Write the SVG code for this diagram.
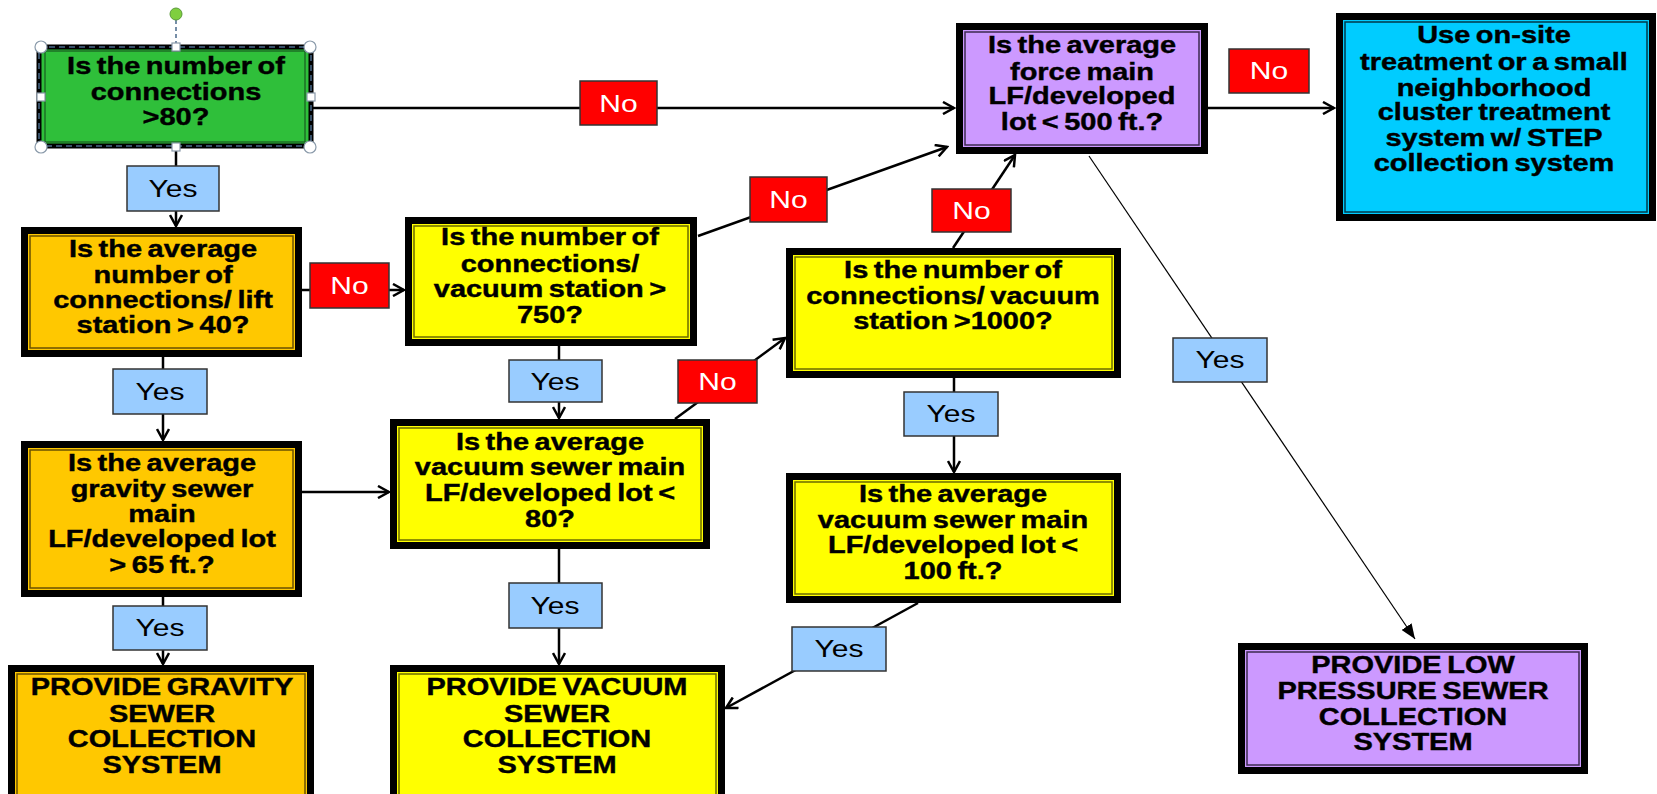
<svg xmlns="http://www.w3.org/2000/svg" width="1657" height="794" viewBox="0 0 1657 794">
<defs>
<style>
.t{font-family:"Liberation Sans",Arial,sans-serif;font-weight:bold;font-size:23px;text-anchor:middle;fill:#000;stroke:#000;stroke-width:0.4;word-spacing:-2px}
.lt{font-family:"Liberation Sans",Arial,sans-serif;font-size:24px;text-anchor:middle}
.yes{fill:#99ccff;stroke:#333;stroke-width:1.5}
.no{fill:#ff0000;stroke:#333;stroke-width:1.5}
.yt{fill:#000}
.nt{fill:#fff}
.frame{stroke:#000;stroke-width:7}
.inner{fill:none;stroke-width:1.5}
.c{stroke:#000;stroke-width:2.5;fill:none;marker-end:url(#arr)}
.thin{stroke:#000;stroke-width:1.2;fill:none;marker-end:url(#tri)}
.handle{fill:#fff;stroke:#8a9aaa;stroke-width:1.2}
</style>
<marker id="arr" markerUnits="userSpaceOnUse" markerWidth="14" markerHeight="14" refX="12" refY="7" orient="auto">
<path d="M1,1 L12,7 L1,13" fill="none" stroke="#000" stroke-width="2.5"/>
</marker>
<marker id="tri" markerUnits="userSpaceOnUse" markerWidth="16" markerHeight="12" refX="15" refY="6" orient="auto">
<path d="M0,0 L15,6 L0,12 Z" fill="#000"/>
</marker>
</defs>
<rect width="1657" height="794" fill="#fff"/>

<g id="connectors">
<line class="c" x1="176" y1="148" x2="176" y2="226"/>
<line class="c" x1="313" y1="108" x2="954" y2="108"/>
<line class="c" x1="302" y1="290" x2="404" y2="290"/>
<line class="c" x1="163" y1="357" x2="163" y2="440"/>
<line class="c" x1="302" y1="492" x2="389" y2="492"/>
<line class="c" x1="163" y1="597" x2="163" y2="664"/>
<line class="c" x1="559" y1="346" x2="559" y2="418"/>
<line class="c" x1="559" y1="549" x2="559" y2="664"/>
<line class="c" x1="698" y1="236" x2="947" y2="147"/>
<line class="c" x1="675" y1="419" x2="785" y2="338"/>
<line class="c" x1="953" y1="248" x2="1015" y2="155"/>
<line class="c" x1="954" y1="378" x2="954" y2="472"/>
<line class="c" x1="918" y1="603" x2="726" y2="708"/>
<line class="c" x1="1208" y1="108" x2="1334" y2="108"/>
<line class="thin" x1="1089" y1="156" x2="1415" y2="639"/>
</g>

<g id="labels">
<rect class="yes" x="127" y="166" width="92" height="45"/><text class="lt yt" transform="translate(173,0) scale(1.25,1)" x="0" y="197">Yes</text>
<rect class="yes" x="113" y="369" width="94" height="45"/><text class="lt yt" transform="translate(160,0) scale(1.25,1)" x="0" y="400">Yes</text>
<rect class="yes" x="113" y="606" width="94" height="44"/><text class="lt yt" transform="translate(160,0) scale(1.25,1)" x="0" y="636">Yes</text>
<rect class="yes" x="509" y="360" width="93" height="42"/><text class="lt yt" transform="translate(555,0) scale(1.25,1)" x="0" y="390">Yes</text>
<rect class="yes" x="509" y="583" width="93" height="45"/><text class="lt yt" transform="translate(555,0) scale(1.25,1)" x="0" y="614">Yes</text>
<rect class="yes" x="904" y="392" width="94" height="44"/><text class="lt yt" transform="translate(951,0) scale(1.25,1)" x="0" y="422">Yes</text>
<rect class="yes" x="792" y="627" width="94" height="44"/><text class="lt yt" transform="translate(839,0) scale(1.25,1)" x="0" y="657">Yes</text>
<rect class="yes" x="1173" y="338" width="94" height="44"/><text class="lt yt" transform="translate(1220,0) scale(1.25,1)" x="0" y="368">Yes</text>
<rect class="no" x="580" y="81" width="77" height="44"/><text class="lt nt" transform="translate(618.5,0) scale(1.25,1)" x="0" y="112">No</text>
<rect class="no" x="310" y="263" width="79" height="45"/><text class="lt nt" transform="translate(349.5,0) scale(1.25,1)" x="0" y="294">No</text>
<rect class="no" x="750" y="177" width="77" height="45"/><text class="lt nt" transform="translate(788.5,0) scale(1.25,1)" x="0" y="208">No</text>
<rect class="no" x="678" y="360" width="79" height="43"/><text class="lt nt" transform="translate(717.5,0) scale(1.25,1)" x="0" y="390">No</text>
<rect class="no" x="932" y="189" width="79" height="43"/><text class="lt nt" transform="translate(971.5,0) scale(1.25,1)" x="0" y="219">No</text>
<rect class="no" x="1229" y="49" width="80" height="44"/><text class="lt nt" transform="translate(1269,0) scale(1.25,1)" x="0" y="79">No</text>
</g>

<g id="start">
<rect x="39" y="47" width="272" height="99" fill="#2fbf3a" stroke="#000" stroke-width="5"/>
<rect x="45" y="51" width="260" height="91" fill="none" stroke="#1a5a20" stroke-width="1.2"/>
<rect x="39" y="47" width="272" height="99" fill="none" stroke="#4a6a8a" stroke-width="1.5" stroke-dasharray="6,4"/>
<line x1="176" y1="20" x2="176" y2="43" stroke="#4a6a8a" stroke-width="1.5" stroke-dasharray="4,3"/>
<circle cx="176" cy="14" r="6" fill="#7fcf3f" stroke="#5a9a3a" stroke-width="1"/>
<circle class="handle" cx="41" cy="47" r="6"/>
<circle class="handle" cx="310" cy="47" r="6"/>
<circle class="handle" cx="41" cy="147" r="6"/>
<circle class="handle" cx="310" cy="147" r="6"/>
<rect class="handle" x="172" y="43" width="8" height="8"/>
<rect class="handle" x="172" y="143" width="8" height="8"/>
<rect class="handle" x="37" y="93" width="8" height="8"/>
<rect class="handle" x="307" y="93" width="8" height="8"/>
<text class="t" transform="translate(176,0) scale(1.26,1)"><tspan x="0" y="74">Is the number of</tspan><tspan x="0" y="100">connections</tspan><tspan x="0" y="125">&gt;80?</tspan></text>
</g>

<g id="lift">
<rect class="frame" x="24.5" y="230.5" width="274" height="123" fill="#ffc800"/>
<rect class="inner" x="30" y="236" width="263" height="112" stroke="#6a5000"/>
<text class="t" transform="translate(163,0) scale(1.26,1)"><tspan x="0" y="257">Is the average</tspan><tspan x="0" y="283">number of</tspan><tspan x="0" y="308">connections/ lift</tspan><tspan x="0" y="333">station &gt; 40?</tspan></text>
</g>

<g id="gravity">
<rect class="frame" x="24.5" y="444.5" width="274" height="149" fill="#ffc800"/>
<rect class="inner" x="30" y="450" width="263" height="138" stroke="#6a5000"/>
<text class="t" transform="translate(162,0) scale(1.26,1)"><tspan x="0" y="471">Is the average</tspan><tspan x="0" y="497">gravity sewer</tspan><tspan x="0" y="522">main</tspan><tspan x="0" y="547">LF/developed lot</tspan><tspan x="0" y="573">&gt; 65 ft.?</tspan></text>
</g>

<g id="provide-gravity">
<rect class="frame" x="11.5" y="668.5" width="299" height="140" fill="#ffc800"/>
<rect class="inner" x="17" y="674" width="288" height="140" stroke="#6a5000"/>
<text class="t" transform="translate(162,0) scale(1.26,1)"><tspan x="0" y="695">PROVIDE GRAVITY</tspan><tspan x="0" y="722">SEWER</tspan><tspan x="0" y="747">COLLECTION</tspan><tspan x="0" y="773">SYSTEM</tspan></text>
</g>

<g id="vac750">
<rect class="frame" x="408.5" y="220.5" width="285" height="122" fill="#ffff00"/>
<rect class="inner" x="414" y="226" width="274" height="111" stroke="#6b6b00"/>
<text class="t" transform="translate(550,0) scale(1.26,1)"><tspan x="0" y="245">Is the number of</tspan><tspan x="0" y="272">connections/</tspan><tspan x="0" y="297">vacuum station &gt;</tspan><tspan x="0" y="323">750?</tspan></text>
</g>

<g id="vac80">
<rect class="frame" x="393.5" y="422.5" width="313" height="123" fill="#ffff00"/>
<rect class="inner" x="399" y="428" width="302" height="112" stroke="#6b6b00"/>
<text class="t" transform="translate(550,0) scale(1.26,1)"><tspan x="0" y="450">Is the average</tspan><tspan x="0" y="475">vacuum sewer main</tspan><tspan x="0" y="501">LF/developed lot &lt;</tspan><tspan x="0" y="527">80?</tspan></text>
</g>

<g id="provide-vacuum">
<rect class="frame" x="393.5" y="668.5" width="328" height="140" fill="#ffff00"/>
<rect class="inner" x="399" y="674" width="317" height="140" stroke="#6b6b00"/>
<text class="t" transform="translate(557,0) scale(1.26,1)"><tspan x="0" y="695">PROVIDE VACUUM</tspan><tspan x="0" y="722">SEWER</tspan><tspan x="0" y="747">COLLECTION</tspan><tspan x="0" y="773">SYSTEM</tspan></text>
</g>

<g id="vac1000">
<rect class="frame" x="789.5" y="251.5" width="328" height="123" fill="#ffff00"/>
<rect class="inner" x="795" y="257" width="317" height="112" stroke="#6b6b00"/>
<text class="t" transform="translate(953,0) scale(1.26,1)"><tspan x="0" y="278">Is the number of</tspan><tspan x="0" y="304">connections/ vacuum</tspan><tspan x="0" y="329">station &gt;1000?</tspan></text>
</g>

<g id="vac100">
<rect class="frame" x="789.5" y="476.5" width="328" height="123" fill="#ffff00"/>
<rect class="inner" x="795" y="482" width="317" height="112" stroke="#6b6b00"/>
<text class="t" transform="translate(953,0) scale(1.26,1)"><tspan x="0" y="502">Is the average</tspan><tspan x="0" y="528">vacuum sewer main</tspan><tspan x="0" y="553">LF/developed lot &lt;</tspan><tspan x="0" y="579">100 ft.?</tspan></text>
</g>

<g id="forcemain">
<rect class="frame" x="959.5" y="26.5" width="245" height="124" fill="#cc99ff"/>
<rect class="inner" x="965" y="32" width="234" height="113" stroke="#3c2a50"/>
<text class="t" transform="translate(1082,0) scale(1.26,1)"><tspan x="0" y="53">Is the average</tspan><tspan x="0" y="80">force main</tspan><tspan x="0" y="104">LF/developed</tspan><tspan x="0" y="130">lot &lt; 500 ft.?</tspan></text>
</g>

<g id="onsite">
<rect class="frame" x="1339.5" y="16.5" width="313" height="201" fill="#00ccff"/>
<rect class="inner" x="1345" y="22" width="302" height="190" stroke="#00394a"/>
<text class="t" transform="translate(1494,0) scale(1.26,1)"><tspan x="0" y="43">Use on-site</tspan><tspan x="0" y="70">treatment or a small</tspan><tspan x="0" y="96">neighborhood</tspan><tspan x="0" y="120">cluster treatment</tspan><tspan x="0" y="146">system w/ STEP</tspan><tspan x="0" y="171">collection system</tspan></text>
</g>

<g id="lowpressure">
<rect class="frame" x="1241.5" y="646.5" width="343" height="124" fill="#cc99ff"/>
<rect class="inner" x="1247" y="652" width="332" height="113" stroke="#3c2a50"/>
<text class="t" transform="translate(1413,0) scale(1.26,1)"><tspan x="0" y="673">PROVIDE LOW</tspan><tspan x="0" y="699">PRESSURE SEWER</tspan><tspan x="0" y="725">COLLECTION</tspan><tspan x="0" y="750">SYSTEM</tspan></text>
</g>
</svg>
